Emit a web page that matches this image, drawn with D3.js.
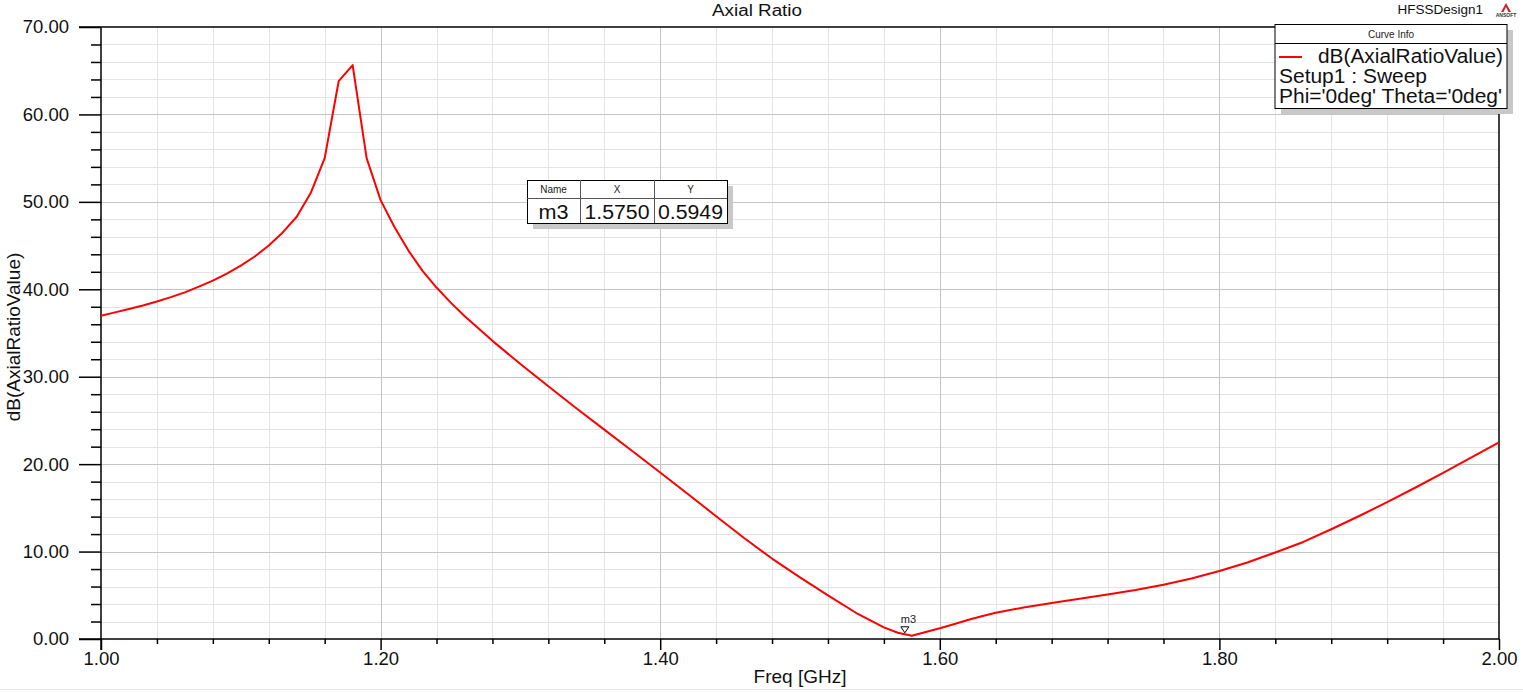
<!DOCTYPE html>
<html>
<head>
<meta charset="utf-8">
<script src="https://cdn.jsdelivr.net/npm/d3@7/dist/d3.min.js"></script>
<style>
  html, body { margin: 0; padding: 0; background: #fff; }
  svg { display: block; font-family: "Liberation Sans", Arial, sans-serif; }
</style>
</head>
<body>
<svg id="chart" width="1523" height="692"></svg>
<script>
// ---- data ----
const freq = [1.00,1.01,1.02,1.03,1.04,1.05,1.06,1.07,1.08,1.09,1.10,1.11,1.12,1.13,1.14,1.15,1.16,1.17,1.18,1.19,1.20,1.21,1.22,1.23,1.24,1.25,1.26,1.28,1.30,1.32,1.34,1.36,1.38,1.40,1.42,1.44,1.46,1.48,1.50,1.52,1.54,1.55,1.56,1.57,1.58,1.59,1.60,1.61,1.62,1.63,1.64,1.66,1.68,1.70,1.72,1.74,1.76,1.78,1.80,1.82,1.84,1.86,1.88,1.90,1.92,1.94,1.96,1.98,2.00];
const arValues = [36.98,37.36,37.75,38.15,38.6,39.1,39.65,40.3,41.0,41.8,42.7,43.75,45.0,46.5,48.3,51.0,55.0,63.8,65.65,55.0,50.2,47.1,44.4,42.1,40.2,38.5,36.95,34.1,31.45,28.9,26.4,23.95,21.5,19.05,16.55,14.05,11.55,9.2,7.05,5.0,3.0,2.17,1.33,0.72,0.38,0.8,1.22,1.68,2.17,2.6,3.0,3.6,4.12,4.6,5.08,5.6,6.2,6.93,7.78,8.75,9.9,11.1,12.55,14.07,15.65,17.3,19.0,20.75,22.5];
const xTicks = [1.0,1.2,1.4,1.6,1.8,2.0];
const xTickLabels = ["1.00","1.20","1.40","1.60","1.80","2.00"];
const yTicks = [0,10,20,30,40,50,60,70];
const yTickLabels = ["0.00","10.00","20.00","30.00","40.00","50.00","60.00","70.00"];
const marker = { name: "m3", x: 1.575, y: 0.5949, xText: "1.5750", yText: "0.5949" };
const legendLines = ["dB(AxialRatioValue)", "Setup1 : Sweep", "Phi='0deg' Theta='0deg'"];

// ---- layout ----
const L = 101, R = 1499, T = 27, B = 639;
const svg = d3.select("#chart");
const x = d3.scaleLinear().domain([1, 2]).range([L, R]);
const y = d3.scaleLinear().domain([0, 70]).range([B, T]);

const xMinor = d3.range(1.0, 2.0001, 0.04).map(v => +v.toFixed(2));
const yMinor = d3.range(0, 70.001, 2);
const isMajorX = v => xTicks.some(t => Math.abs(t - v) < 1e-6);

// minor grid
const grid = svg.append("g");
grid.selectAll(".vminor").data(xMinor.filter(v => !isMajorX(v)))
  .enter().append("line")
  .attr("x1", d => Math.round(x(d)) + 0.5).attr("x2", d => Math.round(x(d)) + 0.5)
  .attr("y1", T).attr("y2", B).attr("stroke", "#e3e3e3").attr("stroke-width", 1);
grid.selectAll(".hminor").data(yMinor.filter(v => v % 10 !== 0))
  .enter().append("line")
  .attr("y1", d => Math.round(y(d)) + 0.5).attr("y2", d => Math.round(y(d)) + 0.5)
  .attr("x1", L).attr("x2", R).attr("stroke", "#e3e3e3").attr("stroke-width", 1);
// major grid
grid.selectAll(".vmajor").data(xTicks.slice(1, -1))
  .enter().append("line")
  .attr("x1", d => Math.round(x(d)) + 0.5).attr("x2", d => Math.round(x(d)) + 0.5)
  .attr("y1", T).attr("y2", B).attr("stroke", "#c4c4c4").attr("stroke-width", 1);
grid.selectAll(".hmajor").data(yTicks.slice(1, -1))
  .enter().append("line")
  .attr("y1", d => Math.round(y(d)) + 0.5).attr("y2", d => Math.round(y(d)) + 0.5)
  .attr("x1", L).attr("x2", R).attr("stroke", "#c4c4c4").attr("stroke-width", 1);

// axes
const yAxis = d3.axisLeft(y).tickValues(yTicks).tickSize(22).tickPadding(10)
  .tickFormat((d, i) => yTickLabels[i]);
const gy = svg.append("g").attr("transform", `translate(${L},0)`).call(yAxis);
gy.select(".domain").remove();
gy.selectAll("line").attr("stroke", "#000").attr("stroke-width", 1.5);
gy.selectAll("text").attr("font-size", 18.5).attr("fill", "#111")
  .attr("font-family", "'Liberation Sans', Arial, sans-serif");

const yAxisMinor = d3.axisLeft(y).tickValues(yMinor.filter(v => v % 10 !== 0)).tickSize(10).tickFormat("");
const gym = svg.append("g").attr("transform", `translate(${L},0)`).call(yAxisMinor);
gym.select(".domain").remove();
gym.selectAll("line").attr("stroke", "#000").attr("stroke-width", 1.5);

const xAxis = d3.axisBottom(x).tickValues(xTicks).tickSize(11).tickPadding(2)
  .tickFormat((d, i) => xTickLabels[i]);
const gx = svg.append("g").attr("transform", `translate(0,${B})`).call(xAxis);
gx.select(".domain").remove();
gx.selectAll("line").attr("stroke", "#000").attr("stroke-width", 1.5);
gx.selectAll("text").attr("font-size", 18.5).attr("fill", "#111")
  .attr("font-family", "'Liberation Sans', Arial, sans-serif");

const xAxisMinor = d3.axisBottom(x).tickValues(xMinor.filter(v => !isMajorX(v))).tickSize(5).tickFormat("");
const gxm = svg.append("g").attr("transform", `translate(0,${B})`).call(xAxisMinor);
gxm.select(".domain").remove();
gxm.selectAll("line").attr("stroke", "#000").attr("stroke-width", 1.5);

// frame
const frame = svg.append("g").attr("stroke", "#000").attr("stroke-width", 1.5).attr("fill", "none");
frame.append("line").attr("x1", L).attr("x2", L).attr("y1", T).attr("y2", B + 11);
frame.append("line").attr("x1", R).attr("x2", R).attr("y1", T).attr("y2", B);
frame.append("line").attr("x1", 79).attr("x2", R).attr("y1", T).attr("y2", T);
frame.append("line").attr("x1", 79).attr("x2", R).attr("y1", B).attr("y2", B);

// curve
const pts = freq.map((f, i) => [f, arValues[i]]);
svg.append("path").datum(pts)
  .attr("fill", "none").attr("stroke", "#ff0000").attr("stroke-width", 2)
  .attr("stroke-linejoin", "round")
  .attr("d", d3.line().x(d => x(d[0])).y(d => y(d[1])));

// marker
const mx = x(marker.x), my = y(marker.y);
svg.append("path")
  .attr("d", `M${mx - 4},${my - 7} L${mx + 4},${my - 7} L${mx},${my - 1} Z`)
  .attr("fill", "#fff").attr("stroke", "#000").attr("stroke-width", 1);
svg.append("text").attr("x", mx - 4).attr("y", my - 11)
  .attr("font-size", 11).attr("fill", "#222").text(marker.name);

// axis titles
svg.append("text").attr("x", 800).attr("y", 683).attr("text-anchor", "middle")
  .attr("font-size", 19).attr("fill", "#111").text("Freq [GHz]");
svg.append("text").attr("transform", "translate(20,337) rotate(-90)").attr("text-anchor", "middle")
  .attr("font-size", 19).attr("fill", "#111").text("dB(AxialRatioValue)");
svg.append("text").attr("x", 712).attr("y", 16)
  .attr("font-size", 16).attr("textLength", 90).attr("lengthAdjust", "spacingAndGlyphs")
  .attr("fill", "#111").text("Axial Ratio");
svg.append("text").attr("x", 1483).attr("y", 14).attr("text-anchor", "end")
  .attr("font-size", 13.5).attr("fill", "#111").text("HFSSDesign1");
// ansoft logo
svg.append("path").attr("d", "M1506,3 L1511,12 L1501,12 Z").attr("fill", "#d02020");
svg.append("path").attr("d", "M1506,7 L1508.5,12 L1503.5,12 Z").attr("fill", "#fff");
svg.append("text").attr("x", 1506).attr("y", 17).attr("text-anchor", "middle")
  .attr("font-size", 5).attr("font-weight", "bold").attr("fill", "#333").text("ANSOFT");

// legend box
const lg = svg.append("g");
lg.append("rect").attr("x", 1281).attr("y", 30).attr("width", 232).attr("height", 84).attr("fill", "#c8c8c8");
lg.append("rect").attr("x", 1275).attr("y", 24.5).attr("width", 232).attr("height", 84)
  .attr("fill", "#fff").attr("stroke", "#000").attr("stroke-width", 1);
lg.append("line").attr("x1", 1275).attr("x2", 1507).attr("y1", 43.5).attr("y2", 43.5)
  .attr("stroke", "#000").attr("stroke-width", 1);
lg.append("text").attr("x", 1391).attr("y", 38).attr("text-anchor", "middle")
  .attr("font-size", 10).attr("fill", "#222").text("Curve Info");
lg.append("line").attr("x1", 1279).attr("x2", 1302).attr("y1", 57).attr("y2", 57)
  .attr("stroke", "#ff0000").attr("stroke-width", 2);
const legendPos = [[1318, 63, 185], [1279, 83, 148], [1279, 103, 223]];
legendLines.forEach((t, i) => lg.append("text")
  .attr("x", legendPos[i][0]).attr("y", legendPos[i][1])
  .attr("font-size", 20).attr("textLength", legendPos[i][2]).attr("lengthAdjust", "spacingAndGlyphs")
  .attr("fill", "#111").text(t));

// marker table
const tb = svg.append("g");
const tx0 = 527, tx1 = 580, tx2 = 654, tx3 = 727, ty0 = 180, ty1 = 198, ty2 = 223;
tb.append("rect").attr("x", tx0 + 6).attr("y", ty0 + 6).attr("width", tx3 - tx0).attr("height", ty2 - ty0).attr("fill", "#c8c8c8");
tb.append("rect").attr("x", tx0 + 0.5).attr("y", ty0 + 0.5).attr("width", tx3 - tx0).attr("height", ty2 - ty0)
  .attr("fill", "#fff").attr("stroke", "#000").attr("stroke-width", 1);
tb.append("line").attr("x1", tx0).attr("x2", tx3).attr("y1", ty1 + 0.5).attr("y2", ty1 + 0.5).attr("stroke", "#555");
[tx1, tx2].forEach(cx => tb.append("line").attr("x1", cx + 0.5).attr("x2", cx + 0.5).attr("y1", ty0).attr("y2", ty2).attr("stroke", "#555"));
const cols = [[tx0, tx1], [tx1, tx2], [tx2, tx3]];
["Name", "X", "Y"].forEach((h, i) => tb.append("text").attr("x", (cols[i][0] + cols[i][1]) / 2).attr("y", ty1 - 5)
  .attr("text-anchor", "middle").attr("font-size", 10).attr("fill", "#222").text(h));
const valLens = [30, 65, 65];
[marker.name, marker.xText, marker.yText].forEach((v, i) => tb.append("text")
  .attr("x", (cols[i][0] + cols[i][1]) / 2 - valLens[i] / 2).attr("y", ty2 - 4)
  .attr("font-size", 20).attr("textLength", valLens[i]).attr("lengthAdjust", "spacingAndGlyphs")
  .attr("fill", "#111").text(v));

// bottom faint line
svg.append("line").attr("x1", 0).attr("x2", 1523).attr("y1", 689.5).attr("y2", 689.5).attr("stroke", "#e6e6e6");
</script>
</body>
</html>
